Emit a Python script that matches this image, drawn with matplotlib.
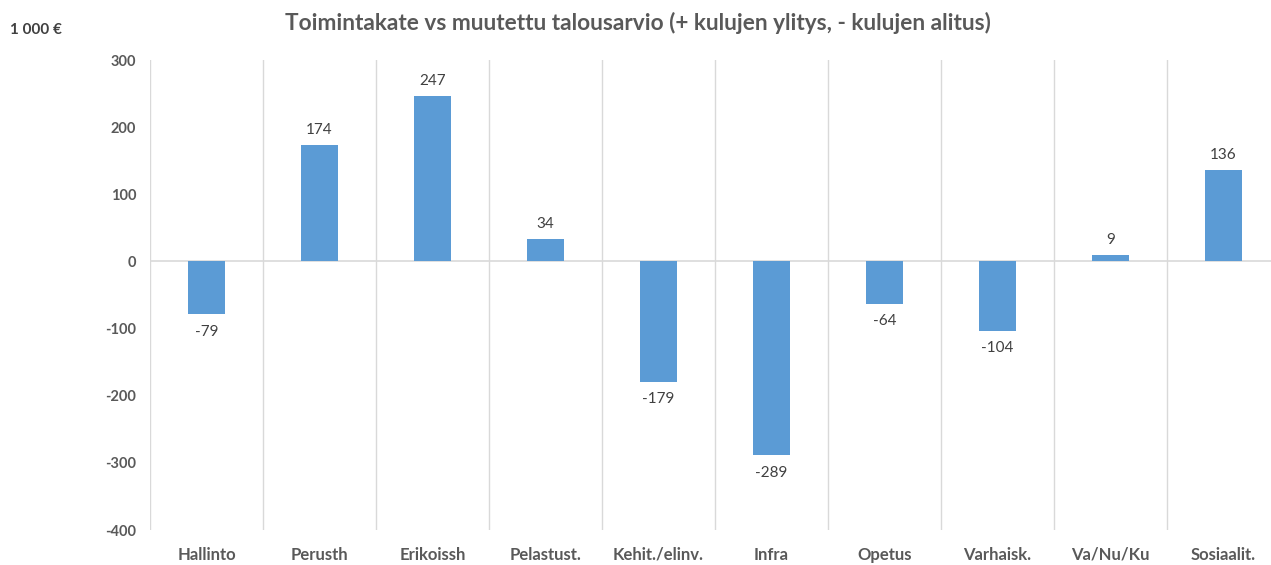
import numpy as np
import matplotlib.pyplot as plt

categories = ['Hallinto', 'Perusth', 'Erikoissh', 'Pelastust.', 'Kehit./elinv.',
              'Infra', 'Opetus', 'Varhaisk.', 'Va/Nu/Ku', 'Sosiaalit.']
values = [-79, 174, 247, 34, -179, -289, -64, -104, 9, 136]
yticks = [300, 200, 100, 0, -100, -200, -300, -400]

plt.rcParams['font.family'] = ['Lato', 'DejaVu Sans']

fig = plt.figure(figsize=(12.71, 5.65), dpi=100)
ax = fig.add_axes([150 / 1271, 1 - 530 / 565, 1130 / 1271, 470 / 565])

x = np.arange(len(categories))
ax.bar(x, values, width=0.32, color='#5B9BD5', zorder=3)

ax.set_xlim(-0.5, len(categories) - 0.5)
ax.set_ylim(-400, 300)

# vertical separators between categories
for b in np.arange(-0.5, len(categories), 1.0):
    ax.axvline(b, color='#D9D9D9', lw=1, zorder=1)
ax.axhline(0, color='#D9D9D9', lw=1.2, zorder=2)

for s in ax.spines.values():
    s.set_visible(False)

ax.set_yticks(yticks)
ax.set_yticklabels([str(v) for v in yticks], fontweight='bold', color='#595959', fontsize=10.5)
ax.set_xticks(x)
ax.set_xticklabels(categories, fontweight='bold', color='#595959', fontsize=12)
ax.tick_params(axis='both', length=0)
ax.tick_params(axis='y', pad=10)
ax.tick_params(axis='x', pad=12)

for xi, v in zip(x, values):
    if v >= 0:
        ax.text(xi, v + 12, str(v), ha='center', va='bottom', color='#404040', fontsize=11)
    else:
        ax.text(xi, v - 15, str(v), ha='center', va='top', color='#404040', fontsize=11)

fig.text(0.502, 1 - 23 / 565, 'Toimintakate vs muutettu talousarvio (+ kulujen ylitys, - kulujen alitus)',
         ha='center', va='center', fontsize=16.3, fontweight='bold', color='#595959')
fig.text(10 / 1271, 1 - 30 / 565, '1 000 €', ha='left', va='center', fontsize=11,
         fontweight='bold', color='#404040')

fig.savefig('out.png', dpi=100)
